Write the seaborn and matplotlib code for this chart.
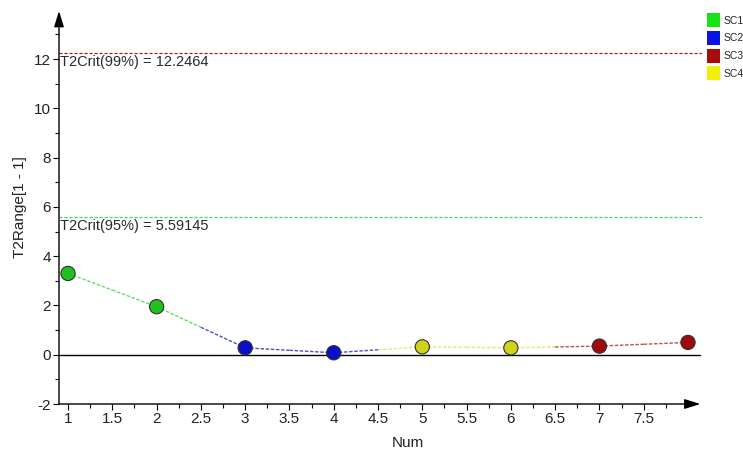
import matplotlib
matplotlib.use("Agg")
import matplotlib.pyplot as plt
from matplotlib.patches import Patch
import seaborn as sns
import pandas as pd
import numpy as np

sns.set_theme(style="white")
plt.rcParams['font.family'] = ['Liberation Sans', 'DejaVu Sans']

# ---- data ----
nums = [1, 2, 3, 4, 5, 6, 7, 8]
t2range = [3.30, 1.95, 0.28, 0.08, 0.32, 0.28, 0.35, 0.50]
groups = ["SC1", "SC1", "SC2", "SC2", "SC4", "SC4", "SC3", "SC3"]
legend_names = ["SC1", "SC2", "SC3", "SC4"]
legend_colors = ["#16e316", "#0a14e6", "#a80a0a", "#f0f00a"]
marker_colors = {"SC1": "#1fc21f", "SC2": "#0a10c8", "SC3": "#a00a0a", "SC4": "#d2d21a"}
line_colors = {"SC1": "#66dd66", "SC2": "#5050c8", "SC3": "#c05050", "SC4": "#e8e870"}
crit99 = 12.2464
crit95 = 5.59145
xticks = [1, 1.5, 2, 2.5, 3, 3.5, 4, 4.5, 5, 5.5, 6, 6.5, 7, 7.5]
yticks = [-2, 0, 2, 4, 6, 8, 10, 12]

df = pd.DataFrame({"Num": nums, "T2Range": t2range, "Group": groups})

W, H = 743, 451
fig = plt.figure(figsize=(W / 100, H / 100), dpi=100)
x0, x1 = 0.898, 8.158
y0, y1 = -2.0, 14.0
left_px, right_px = 59, 702
bottom_px, top_px = 404, 9.8
ax = fig.add_axes([left_px / W, (H - bottom_px) / H,
                   (right_px - left_px) / W, (bottom_px - top_px) / H])
ax.set_xlim(x0, x1)
ax.set_ylim(y0, y1)

for s in ax.spines.values():
    s.set_visible(False)

# axes with arrows
ax.annotate("", xy=(x0, 13.95), xytext=(x0, y0), xycoords="data",
            arrowprops=dict(arrowstyle="-|>,head_width=0.25,head_length=0.8",
                            color="black", lw=1.0, shrinkA=0, shrinkB=0),
            annotation_clip=False)
ax.annotate("", xy=(8.14, y0), xytext=(x0, y0), xycoords="data",
            arrowprops=dict(arrowstyle="-|>,head_width=0.25,head_length=0.8",
                            color="black", lw=1.0, shrinkA=0, shrinkB=0),
            annotation_clip=False)

# zero line
ax.plot([x0, 8.14], [0, 0], color="black", lw=1.0, zorder=1)

# critical lines
ax.axhline(crit99, color="#b81818", lw=0.9, ls=(0, (2.5, 1.5)), zorder=1)
ax.axhline(crit95, color="#44dd44", lw=0.9, ls=(0, (2.5, 1.5)), zorder=1)
ax.text(x0 + 0.01, crit99 - 0.1, f"T2Crit(99%) = {crit99}", ha="left", va="top",
        fontsize=10.5, color="#2a2a2a")
ax.text(x0 + 0.01, crit95 - 0.1, f"T2Crit(95%) = {crit95}", ha="left", va="top",
        fontsize=10.5, color="#2a2a2a")

# connecting dashed segments (each half in its endpoint's colour)
for i in range(len(nums) - 1):
    xa, xb = nums[i], nums[i + 1]
    ya, yb = t2range[i], t2range[i + 1]
    xm, ym = (xa + xb) / 2, (ya + yb) / 2
    ax.plot([xa, xm], [ya, ym], color=line_colors[groups[i]], lw=1.0,
            ls=(0, (2.5, 1.2)), zorder=2)
    ax.plot([xm, xb], [ym, yb], color=line_colors[groups[i + 1]], lw=1.0,
            ls=(0, (2.5, 1.2)), zorder=2)

sns.scatterplot(data=df, x="Num", y="T2Range", hue="Group", palette=marker_colors,
                s=105, edgecolor="#303030", linewidth=0.8, legend=False, ax=ax,
                zorder=3)

# ticks
ax.set_xticks(xticks)
ax.set_xticklabels([f"{t:g}" for t in xticks])
ax.set_xticks(np.arange(1.25, 8.0, 0.5), minor=True)
ax.set_yticks(yticks)
ax.set_yticklabels([f"{t:g}" for t in yticks])
ax.set_yticks(np.arange(-1, 14, 2), minor=True)
ax.tick_params(axis="both", which="major", direction="out", length=4, width=0.8,
               color="black", labelsize=11, labelcolor="#222222", pad=2,
               bottom=True, left=True)
ax.tick_params(axis="both", which="minor", direction="out", length=3, width=0.8,
               color="black", bottom=True, left=True)

ax.set_xlabel("Num", fontsize=11, color="#222222")
ax.xaxis.set_label_coords((408 - left_px) / (right_px - left_px), -0.08)
ax.set_ylabel("T2Range[1 - 1]", fontsize=11, color="#222222")
ax.yaxis.set_label_coords(-0.05, 0.5)

# legend
handles = [Patch(facecolor=c, edgecolor="none", label=n)
           for n, c in zip(legend_names, legend_colors)]
fig.legend(handles=handles, loc="upper left", bbox_to_anchor=(700 / W, 1 - 6 / H),
           frameon=False, fontsize=7.5, handlelength=1.25, handleheight=1.7,
           handletextpad=0.35, labelspacing=0.35, borderpad=0.2)

fig.savefig("out.png", dpi=100, facecolor="white")
